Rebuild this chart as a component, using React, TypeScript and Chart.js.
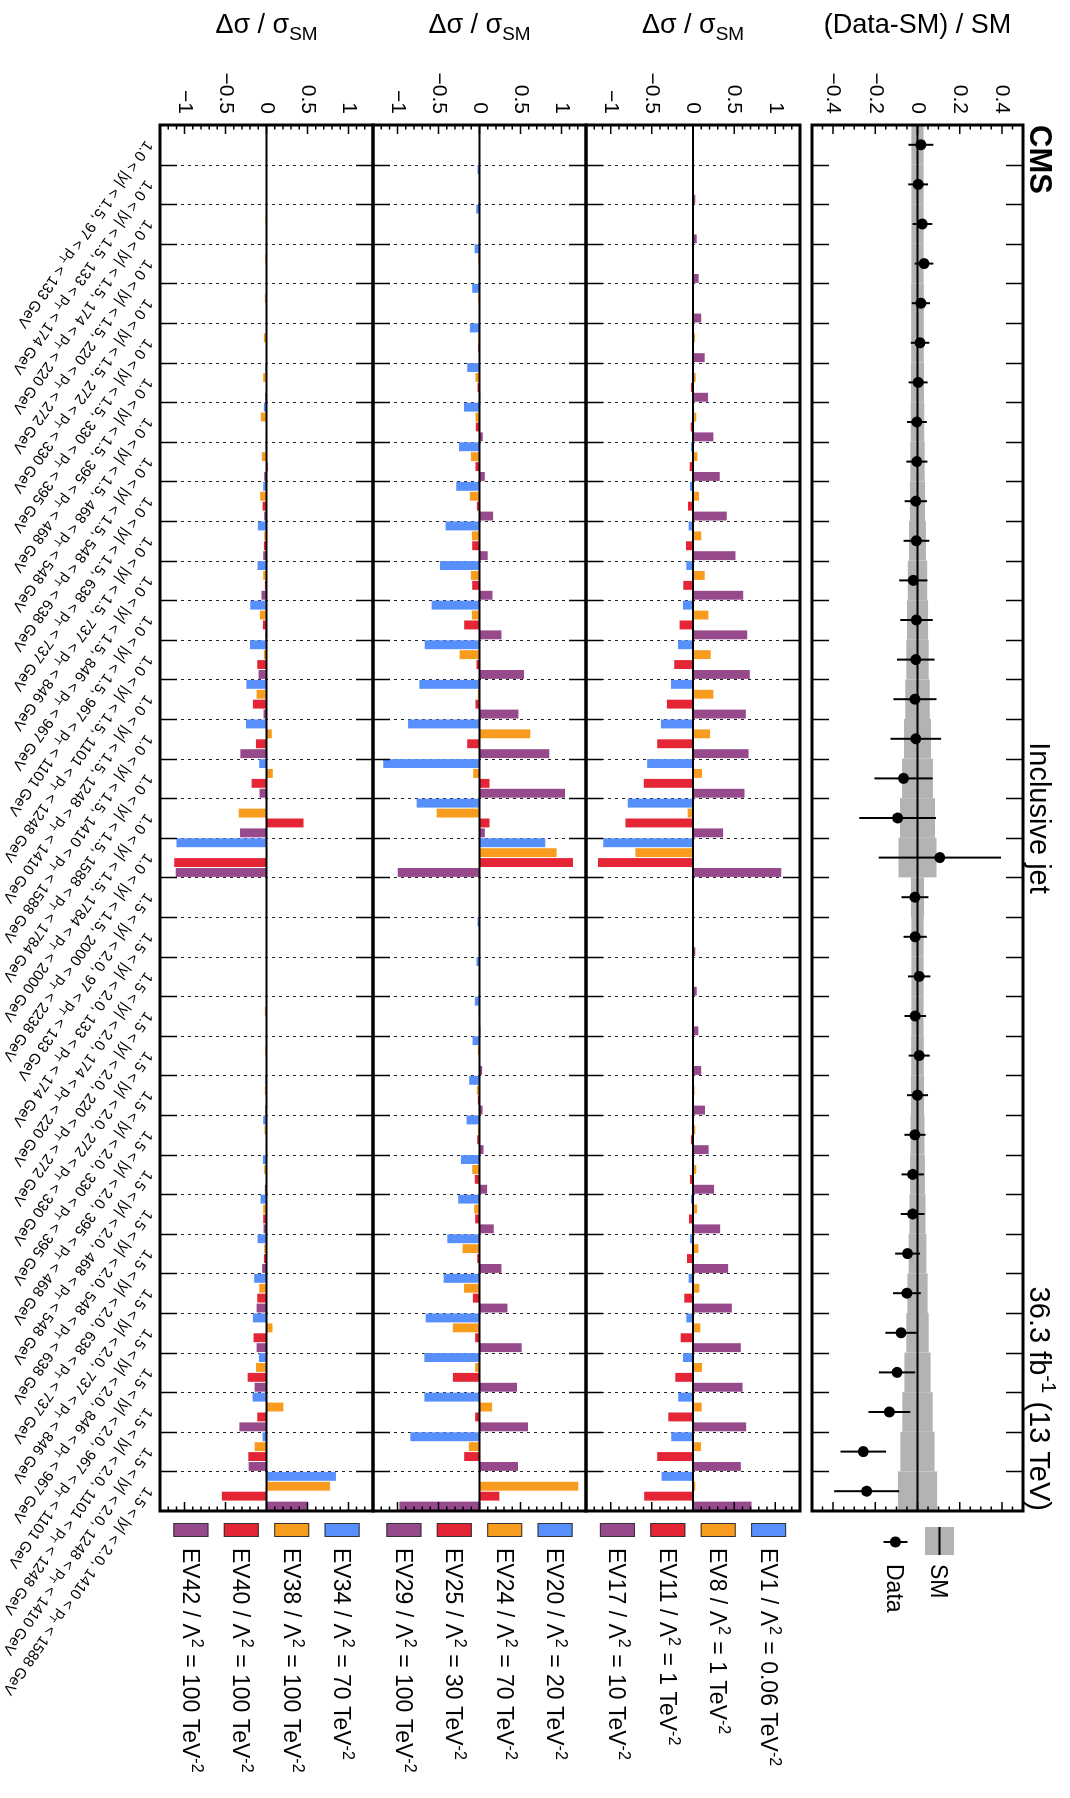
import React, { useEffect, useRef } from 'react';
import { Chart, registerables } from 'chart.js';

Chart.register(...registerables);

// ---------------- DATA ----------------
const categories = [
  '1.0 < |y| < 1.5, 97 < pT < 133 GeV',
  '1.0 < |y| < 1.5, 133 < pT < 174 GeV',
  '1.0 < |y| < 1.5, 174 < pT < 220 GeV',
  '1.0 < |y| < 1.5, 220 < pT < 272 GeV',
  '1.0 < |y| < 1.5, 272 < pT < 330 GeV',
  '1.0 < |y| < 1.5, 330 < pT < 395 GeV',
  '1.0 < |y| < 1.5, 395 < pT < 468 GeV',
  '1.0 < |y| < 1.5, 468 < pT < 548 GeV',
  '1.0 < |y| < 1.5, 548 < pT < 638 GeV',
  '1.0 < |y| < 1.5, 638 < pT < 737 GeV',
  '1.0 < |y| < 1.5, 737 < pT < 846 GeV',
  '1.0 < |y| < 1.5, 846 < pT < 967 GeV',
  '1.0 < |y| < 1.5, 967 < pT < 1101 GeV',
  '1.0 < |y| < 1.5, 1101 < pT < 1248 GeV',
  '1.0 < |y| < 1.5, 1248 < pT < 1410 GeV',
  '1.0 < |y| < 1.5, 1410 < pT < 1588 GeV',
  '1.0 < |y| < 1.5, 1588 < pT < 1784 GeV',
  '1.0 < |y| < 1.5, 1784 < pT < 2000 GeV',
  '1.0 < |y| < 1.5, 2000 < pT < 2238 GeV',
  '1.5 < |y| < 2.0, 97 < pT < 133 GeV',
  '1.5 < |y| < 2.0, 133 < pT < 174 GeV',
  '1.5 < |y| < 2.0, 174 < pT < 220 GeV',
  '1.5 < |y| < 2.0, 220 < pT < 272 GeV',
  '1.5 < |y| < 2.0, 272 < pT < 330 GeV',
  '1.5 < |y| < 2.0, 330 < pT < 395 GeV',
  '1.5 < |y| < 2.0, 395 < pT < 468 GeV',
  '1.5 < |y| < 2.0, 468 < pT < 548 GeV',
  '1.5 < |y| < 2.0, 548 < pT < 638 GeV',
  '1.5 < |y| < 2.0, 638 < pT < 737 GeV',
  '1.5 < |y| < 2.0, 737 < pT < 846 GeV',
  '1.5 < |y| < 2.0, 846 < pT < 967 GeV',
  '1.5 < |y| < 2.0, 967 < pT < 1101 GeV',
  '1.5 < |y| < 2.0, 1101 < pT < 1248 GeV',
  '1.5 < |y| < 2.0, 1248 < pT < 1410 GeV',
  '1.5 < |y| < 2.0, 1410 < pT < 1588 GeV',
];

const dataRatio = [
  0.016, 0.003, 0.023, 0.031, 0.016, 0.012, 0.003, -0.003, -0.003, -0.008,
  -0.005, -0.02, -0.005, -0.008, -0.012, -0.008, -0.066, -0.094, 0.106,
  -0.012, -0.011, 0.008, -0.011, 0.008, 0.0, -0.012, -0.023, -0.023, -0.047,
  -0.05, -0.078, -0.097, -0.133, -0.257, -0.241,
];
const dataErr = [
  0.059, 0.047, 0.047, 0.044, 0.043, 0.044, 0.045, 0.047, 0.05, 0.053,
  0.061, 0.067, 0.077, 0.089, 0.102, 0.12, 0.138, 0.182, 0.29,
  0.064, 0.055, 0.053, 0.051, 0.05, 0.05, 0.05, 0.053, 0.056, 0.059,
  0.066, 0.074, 0.086, 0.099, 0.108, 0.154,
];
const smUnc = [
  0.029, 0.029, 0.029, 0.029, 0.03, 0.03, 0.031, 0.032, 0.034, 0.036,
  0.04, 0.046, 0.05, 0.053, 0.058, 0.064, 0.073, 0.083, 0.09,
  0.031, 0.029, 0.029, 0.029, 0.03, 0.031, 0.033, 0.035, 0.038, 0.042,
  0.048, 0.053, 0.062, 0.072, 0.081, 0.093,
];

const ev1 = [0, 0, 0, 0, 0, 0, -0.005, -0.012, -0.024, -0.037, -0.053, -0.081, -0.122, -0.183, -0.268, -0.39, -0.557, -0.793, -1.09,
  0, 0, 0, 0, 0, -0.005, -0.008, -0.012, -0.024, -0.037, -0.053, -0.081, -0.122, -0.179, -0.264, -0.382];
const ev8 = [0, 0.002, 0.004, 0.006, 0.01, 0.025, 0.033, 0.04, 0.053, 0.073, 0.1, 0.142, 0.187, 0.215, 0.248, 0.207, 0.11, -0.065, -0.7,
  0, 0.002, 0.004, 0.006, 0.01, 0.02, 0.028, 0.04, 0.049, 0.065, 0.077, 0.089, 0.11, 0.106, 0.098, 0.028];
const ev11 = [0, 0, 0, -0.003, -0.006, -0.012, -0.024, -0.028, -0.04, -0.061, -0.085, -0.118, -0.163, -0.228, -0.317, -0.435, -0.598, -0.821, -1.155,
  0, 0, 0, -0.003, -0.008, -0.012, -0.024, -0.037, -0.049, -0.073, -0.106, -0.15, -0.215, -0.3, -0.435, -0.593];
const ev17 = [0.005, 0.028, 0.045, 0.069, 0.1, 0.142, 0.183, 0.248, 0.325, 0.41, 0.516, 0.61, 0.659, 0.69, 0.642, 0.675, 0.626, 0.366, 1.073,
  0.005, 0.028, 0.045, 0.065, 0.1, 0.146, 0.19, 0.256, 0.33, 0.427, 0.472, 0.581, 0.602, 0.646, 0.581, 0.711];

const ev20 = [-0.005, -0.024, -0.04, -0.06, -0.089, -0.118, -0.15, -0.19, -0.25, -0.284, -0.414, -0.483, -0.584, -0.669, -0.734, -0.872, -1.176, -0.767, 0.803,
  -0.005, -0.024, -0.037, -0.057, -0.085, -0.126, -0.158, -0.227, -0.26, -0.393, -0.438, -0.657, -0.673, -0.673, -0.844, 0];
const ev24 = [0, 0, -0.004, -0.016, -0.016, -0.016, -0.049, -0.049, -0.105, -0.118, -0.093, -0.105, -0.093, -0.243, -0.02, 0.62, -0.077, -0.523, 0.941,
  0, 0, -0.004, -0.01, -0.02, -0.032, -0.02, -0.089, -0.065, -0.207, -0.19, -0.325, -0.053, 0.154, -0.13, 1.205];
const ev25 = [0, 0, 0, 0, -0.004, -0.016, -0.024, -0.045, -0.049, -0.032, -0.089, -0.089, -0.187, -0.037, -0.049, -0.15, 0.122, 0.122, 1.14,
  0, 0, 0, -0.004, -0.004, -0.02, -0.028, -0.057, -0.053, -0.028, -0.081, -0.053, -0.325, -0.053, -0.187, 0.243];
const ev29 = [0, 0, 0, 0, 0, 0, 0.008, 0.04, 0.065, 0.166, 0.1, 0.158, 0.268, 0.544, 0.475, 0.852, 1.043, 0.065, -0.998,
  0, 0, 0, 0.01, 0.032, 0.037, 0.049, 0.093, 0.174, 0.268, 0.341, 0.515, 0.458, 0.592, 0.47, -0.978];

const ev34 = [0, 0, 0, 0, 0, -0.005, -0.016, -0.032, -0.012, -0.04, -0.105, -0.109, -0.198, -0.202, -0.246, -0.25, -0.089, 0, -1.099,
  0, 0, 0, -0.004, -0.008, -0.016, -0.04, -0.044, -0.073, -0.109, -0.15, -0.166, -0.093, -0.17, -0.048, 0.848];
const ev38 = [0, -0.004, -0.012, -0.016, -0.02, -0.032, -0.04, -0.069, -0.057, -0.077, -0.028, -0.04, -0.081, -0.032, -0.121, 0.065, 0.077, -0.339, 0.01,
  0, 0, -0.004, -0.02, -0.016, -0.02, -0.024, -0.028, -0.04, -0.028, -0.089, 0.073, -0.129, 0.206, -0.145, 0.776];
const ev40 = [0, 0, 0, 0, 0, 0, -0.004, 0.005, 0.016, -0.048, -0.032, -0.02, -0.044, -0.113, -0.166, -0.129, -0.182, 0.452, -1.127,
  0, 0, 0, 0, 0, 0, 0, 0, -0.04, -0.032, -0.113, -0.158, -0.23, -0.113, -0.222, -0.545];
const ev42 = [0, 0, 0, 0, 0, 0, -0.016, -0.008, -0.028, -0.028, -0.04, -0.061, -0.016, -0.097, -0.036, -0.319, -0.085, -0.323, -1.107,
  0, 0, 0, 0, 0, -0.016, -0.008, -0.02, -0.036, -0.053, -0.121, -0.121, -0.145, -0.331, -0.218, 0.497];

const seriesNames = ['EV1', 'EV8', 'EV11', 'EV17', 'EV20', 'EV24', 'EV25', 'EV29', 'EV34', 'EV38', 'EV40', 'EV42'];
const seriesLambda2 = ['0.06', '1', '1', '10', '20', '70', '30', '100', '70', '100', '100', '100'];
const seriesValues = [ev1, ev8, ev11, ev17, ev20, ev24, ev25, ev29, ev34, ev38, ev40, ev42];
const slotColors = ['#5790fc', '#f89c20', '#e42536', '#964a8b'];

const dataTicks = [-0.4, -0.2, 0, 0.2, 0.4];
const dataTickLabels = ['\u22120.4', '\u22120.2', '0', '0.2', '0.4'];
const barTicks = [-1, -0.5, 0, 0.5, 1];
const barTickLabels = ['\u22121', '\u22120.5', '0', '0.5', '1'];

// ---------------- LAYOUT (unrotated frame) ----------------
const W = 1798;
const H = 1070;
const PLOT_L = 125;
const PLOT_R = 1511;
const PANELS = [
  { id: 'yD', top: 47, bottom: 258, min: -0.5, max: 0.5 },
  { id: 'y1', top: 270, bottom: 484, min: -1.3, max: 1.3 },
  { id: 'y2', top: 484, bottom: 697, min: -1.3, max: 1.3 },
  { id: 'y3', top: 697, bottom: 910, min: -1.3, max: 1.3 },
];
const FONT = '"Liberation Sans", Arial, Helvetica, sans-serif';

type Seg = { t: string; k?: 'sub' | 'sup' };

function segsWidth(ctx: any, segs: Seg[], size: number, bold = false) {
  let w = 0;
  for (const s of segs) {
    const fs = s.k ? size * 0.7 : size;
    ctx.font = `${bold && !s.k ? 'bold ' : ''}${fs}px ${FONT}`;
    w += ctx.measureText(s.t).width;
  }
  return w;
}

function drawSegs(ctx: any, segs: Seg[], x: number, y: number, size: number, bold = false) {
  let cx = x;
  ctx.textAlign = 'left';
  ctx.textBaseline = 'alphabetic';
  for (const s of segs) {
    const fs = s.k ? size * 0.7 : size;
    ctx.font = `${bold && !s.k ? 'bold ' : ''}${fs}px ${FONT}`;
    const dy = s.k === 'sup' ? -size * 0.4 : s.k === 'sub' ? size * 0.25 : 0;
    ctx.fillText(s.t, cx, y + dy);
    cx += ctx.measureText(s.t).width;
  }
  return cx;
}

function labelSegs(label: string): Seg[] {
  const i = label.indexOf('pT');
  return [{ t: label.slice(0, i + 1) }, { t: 'T', k: 'sub' }, { t: label.slice(i + 2) }];
}

const overlay = {
  id: 'overlay',
  afterLayout(chart: any) {
    PANELS.forEach((p) => {
      const s = chart.scales[p.id];
      s.top = p.top;
      s.bottom = p.bottom;
      s.height = p.bottom - p.top;
      s.configure();
    });
  },
  beforeDatasetsDraw(chart: any) {
    const ctx = chart.ctx;
    const xs = chart.scales.x;
    const n = categories.length;
    const bw = (xs.right - xs.left) / n;
    const yD = chart.scales.yD;
    ctx.save();
    ctx.fillStyle = '#b3b3b3';
    for (let i = 0; i < n; i++) {
      const c = xs.getPixelForValue(i);
      const y0 = yD.getPixelForValue(-smUnc[i]);
      const y1 = yD.getPixelForValue(smUnc[i]);
      ctx.fillRect(c - bw / 2, y1, bw, y0 - y1);
    }
    ctx.strokeStyle = '#000';
    ctx.lineWidth = 2;
    ctx.beginPath();
    ctx.moveTo(PLOT_L, yD.getPixelForValue(0));
    ctx.lineTo(PLOT_R, yD.getPixelForValue(0));
    ctx.stroke();
    ctx.setLineDash([3, 4]);
    ctx.lineWidth = 1;
    ctx.strokeStyle = '#222';
    for (let k = 1; k < 4; k++) {
      const p = PANELS[k];
      for (let i = 1; i < n; i++) {
        const x = Math.round(xs.left + i * bw) + 0.5;
        ctx.beginPath();
        ctx.moveTo(x, p.top);
        ctx.lineTo(x, p.bottom);
        ctx.stroke();
      }
    }
    ctx.setLineDash([]);
    ctx.strokeStyle = '#000';
    ctx.lineWidth = 2;
    for (let i = 0; i < n; i++) {
      const c = xs.getPixelForValue(i);
      ctx.beginPath();
      ctx.moveTo(c, yD.getPixelForValue(dataRatio[i] - dataErr[i]));
      ctx.lineTo(c, yD.getPixelForValue(dataRatio[i] + dataErr[i]));
      ctx.stroke();
    }
    ctx.restore();
  },
  afterDatasetsDraw(chart: any) {
    const ctx = chart.ctx;
    const xs = chart.scales.x;
    const n = categories.length;
    const bw = (xs.right - xs.left) / n;
    ctx.save();
    ctx.strokeStyle = '#000';
    ctx.fillStyle = '#000';
    ctx.lineWidth = 2;
    for (let k = 1; k < 4; k++) {
      const s = chart.scales[PANELS[k].id];
      const y = s.getPixelForValue(0);
      ctx.beginPath();
      ctx.moveTo(PLOT_L, y);
      ctx.lineTo(PLOT_R, y);
      ctx.stroke();
    }
    ctx.lineWidth = 1.5;
    PANELS.forEach((p) => {
      for (let i = 1; i < n; i++) {
        const x = Math.round(xs.left + i * bw) + 0.5;
        ctx.beginPath();
        ctx.moveTo(x, p.top);
        ctx.lineTo(x, p.top + 17);
        ctx.moveTo(x, p.bottom);
        ctx.lineTo(x, p.bottom - 17);
        ctx.stroke();
      }
    });
    PANELS.forEach((p, k) => {
      const s = chart.scales[p.id];
      const major = k === 0 ? dataTicks : barTicks;
      const labels = k === 0 ? dataTickLabels : barTickLabels;
      const step = k === 0 ? 0.05 : 0.1;
      ctx.lineWidth = 1.5;
      for (let v = p.min + step; v < p.max - 1e-9; v += step) {
        const vv = Math.round(v * 1000) / 1000;
        const isMajor = major.some((m) => Math.abs(m - vv) < 1e-6);
        const len = isMajor ? 9 : 4.5;
        const y = s.getPixelForValue(vv);
        ctx.beginPath();
        ctx.moveTo(PLOT_L, y);
        ctx.lineTo(PLOT_L + len, y);
        ctx.moveTo(PLOT_R, y);
        ctx.lineTo(PLOT_R - len, y);
        ctx.stroke();
      }
      ctx.font = `21px ${FONT}`;
      ctx.textAlign = 'right';
      ctx.textBaseline = 'middle';
      major.forEach((m, j) => {
        ctx.fillText(labels[j], PLOT_L - 11, s.getPixelForValue(m));
      });
      ctx.save();
      const cy = (p.top + p.bottom) / 2;
      ctx.translate(33, cy);
      ctx.rotate(-Math.PI / 2);
      const segs: Seg[] = k === 0 ? [{ t: '(Data-SM) / SM' }] : [{ t: '\u0394\u03c3 / \u03c3' }, { t: 'SM', k: 'sub' }];
      const tw = segsWidth(ctx, segs, 27);
      drawSegs(ctx, segs, -tw / 2, 0, 27);
      ctx.restore();
    });
    ctx.lineWidth = 3;
    PANELS.forEach((p) => {
      ctx.strokeRect(PLOT_L, p.top, PLOT_R - PLOT_L, p.bottom - p.top);
    });
    const ang = (35 * Math.PI) / 180;
    ctx.fillStyle = '#000';
    for (let i = 0; i < n; i++) {
      const c = xs.getPixelForValue(i);
      ctx.save();
      ctx.translate(c - 2, 920);
      ctx.rotate(ang);
      drawSegs(ctx, labelSegs(categories[i]), 0, 5.5, 15);
      ctx.restore();
    }
    ctx.font = `bold 31px ${FONT}`;
    ctx.textAlign = 'left';
    ctx.textBaseline = 'alphabetic';
    ctx.fillText('CMS', PLOT_L, 40);
    ctx.font = `29px ${FONT}`;
    ctx.textAlign = 'center';
    ctx.fillText('Inclusive jet', (PLOT_L + PLOT_R) / 2, 40);
    const lumi: Seg[] = [{ t: '36.3 fb' }, { t: '-1', k: 'sup' }, { t: ' (13 TeV)' }];
    const lw = segsWidth(ctx, lumi, 29);
    drawSegs(ctx, lumi, PLOT_R - lw, 40, 29);
    for (let k = 0; k < 3; k++) {
      const p = PANELS[k + 1];
      const cy = (p.top + p.bottom) / 2;
      for (let j = 0; j < 4; j++) {
        const idx = k * 4 + j;
        const y = cy + (j - 1.5) * 50.4;
        ctx.fillStyle = slotColors[j];
        ctx.fillRect(1523, y - 17.5, 14, 35);
        ctx.strokeStyle = '#333';
        ctx.lineWidth = 1;
        ctx.strokeRect(1523.5, y - 17, 13, 34);
        ctx.fillStyle = '#000';
        const segs: Seg[] = [
          { t: `${seriesNames[idx]} / \u039b` }, { t: '2', k: 'sup' },
          { t: ` = ${seriesLambda2[idx]} TeV` }, { t: '-2', k: 'sup' },
        ];
        drawSegs(ctx, segs, 1548, y + 8, 23);
      }
    }
    const dp = PANELS[0];
    const dcy = (dp.top + dp.bottom) / 2;
    const ySM = dcy - 22;
    const yDa = dcy + 22;
    ctx.fillStyle = '#b3b3b3';
    ctx.fillRect(1527, ySM - 14.5, 28, 29);
    ctx.strokeStyle = '#000';
    ctx.lineWidth = 2;
    ctx.beginPath();
    ctx.moveTo(1527, ySM);
    ctx.lineTo(1555, ySM);
    ctx.moveTo(1542, yDa - 12);
    ctx.lineTo(1542, yDa + 12);
    ctx.stroke();
    ctx.fillStyle = '#000';
    ctx.beginPath();
    ctx.arc(1542, yDa, 5.5, 0, Math.PI * 2);
    ctx.fill();
    drawSegs(ctx, [{ t: 'SM' }], 1564, ySM + 8, 23);
    drawSegs(ctx, [{ t: 'Data' }], 1564, yDa + 8, 23);
    ctx.restore();
  },
};

export default function App() {
  const ref = useRef<HTMLCanvasElement | null>(null);
  useEffect(() => {
    if (!ref.current) return;
    const slotStacks = ['s1', 's2', 's3', 's4'];
    const barDatasets = seriesValues.map((vals, idx) => ({
      type: 'bar' as const,
      label: seriesNames[idx],
      data: vals,
      yAxisID: PANELS[1 + Math.floor(idx / 4)].id,
      stack: slotStacks[idx % 4],
      backgroundColor: slotColors[idx % 4],
      borderWidth: 0,
      barPercentage: 0.9,
      categoryPercentage: 1.0,
    }));
    const chart = new Chart(ref.current, {
      type: 'bar',
      data: {
        labels: categories,
        datasets: [
          {
            type: 'line' as const,
            label: 'Data',
            data: dataRatio,
            yAxisID: 'yD',
            showLine: false,
            pointRadius: 5.5,
            pointBackgroundColor: '#000',
            pointBorderColor: '#000',
            pointBorderWidth: 0,
            order: -1,
          } as any,
          ...barDatasets,
        ],
      },
      options: {
        responsive: false,
        maintainAspectRatio: false,
        animation: false,
        devicePixelRatio: 1,
        layout: { padding: { left: PLOT_L, right: W - PLOT_R, top: 47, bottom: H - 910 } },
        plugins: { legend: { display: false }, tooltip: { enabled: false } },
        scales: {
          x: { type: 'category', display: false, offset: true, grid: { display: false } },
          yD: { type: 'linear', display: false, min: -0.5, max: 0.5, stacked: false },
          y1: { type: 'linear', display: false, min: -1.3, max: 1.3, stacked: false },
          y2: { type: 'linear', display: false, min: -1.3, max: 1.3, stacked: false },
          y3: { type: 'linear', display: false, min: -1.3, max: 1.3, stacked: false },
        },
      } as any,
      plugins: [overlay],
    });
    return () => chart.destroy();
  }, []);

  return (
    <div style={{ position: 'absolute', left: 0, top: 0, width: 1070, height: 1798, overflow: 'hidden', background: '#fff' }}>
      <div
        style={{
          position: 'absolute',
          left: 0,
          top: 0,
          width: W,
          height: H,
          transformOrigin: '0 0',
          transform: 'translateX(1070px) rotate(90deg)',
        }}
      >
        <canvas ref={ref} width={W} height={H} style={{ width: W, height: H, display: 'block' }} />
      </div>
    </div>
  );
}
